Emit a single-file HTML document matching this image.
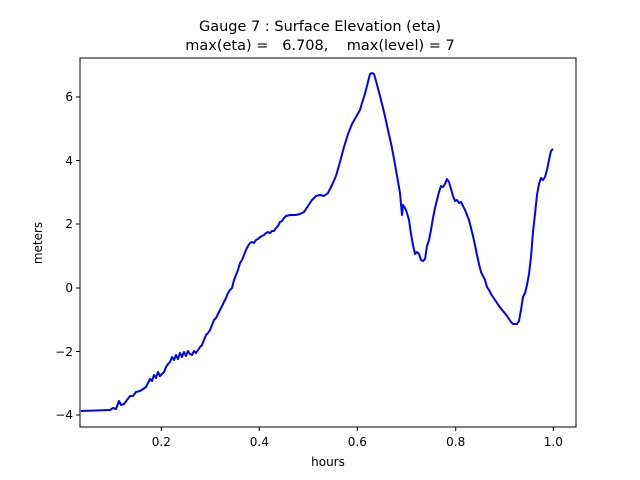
<!DOCTYPE html>
<html><head><meta charset="utf-8"><style>body{margin:0;background:#fff}svg{display:block;font-family:"DejaVu Sans","Liberation Sans",sans-serif}</style></head><body>
<svg width="640" height="480" viewBox="0 0 640 480">
<rect width="640" height="480" fill="#fff"/>
<text x="320" y="31" font-size="14.5" text-anchor="middle">Gauge 7 : Surface Elevation (eta)</text>
<text x="320" y="50" font-size="14.5" text-anchor="middle" xml:space="preserve">max(eta) =   6.708,    max(level) = 7</text>
<polyline fill="none" stroke="#0000ff" stroke-width="2" stroke-linejoin="round" points="81,411 110,410 113,408 116,409 119,401 121,405 124,404 127,400 130,396 133,396 136,392 140,391 143,389 146,387 148,383 150,379 152,381 154,375 156,378 158,372 160,376 162,374 164,372 166,367 168,364 170,362 172,357 174,360 176,355 178,359 180,353 182,357 184,352 186,356 188,351 190,354 192,355 194,351 196,353 198,350 200,347 202,345 204,340 206,335 208,333 210,330 212,325 214,320 216,318 218,314 220,310 222,306 224,302 226,298 228,293 230,290 232,288 234,280 236,275 238,270 240,263 242,260 244,255 246,250 248,246 250,243 252,242 254,243 256,240 258,239 260,237 262,236 264,235 266,233 268,232 270,233 272,231 274,231 276,228 278,226 280,222 282,221 284,218 286,216 290,215 296,215 300,214 304,212 308,206 312,200 316,196 320,195 324,196 328,193 332,185 336,176 340,162 344,147 348,134 352,124 356,117 360,110 362,103 364,97 366,90 368,82 370,74 372,73 374,74 376,81 380,96 384,112 388,130 392,148 396,170 400,193 402,215 403,205 405,208 407,213 409,220 411,234 413,245 415,254 417,252 419,254 421,260 423,261 425,259 427,246 429,240 431,230 433,218 435,208 437,200 439,192 441,186 443,187 445,184 447,179 449,182 451,189 453,196 455,201 457,200 459,203 461,202 463,206 465,210 467,215 469,220 471,228 473,236 475,245 477,255 479,264 481,272 483,276 485,280 487,287 489,290 491,294 493,297 495,300 497,303 499,306 503,311 507,316 509,319 511,322 513,324 517,324 519,321 521,310 523,297 525,293 527,285 529,274 531,257 533,232 535,214 537,195 539,184 541,178 543,180 545,177 547,170 549,160 551,151 553,149"/>
<rect x="80" y="58" width="496" height="369" fill="none" stroke="#000" stroke-width="1"/>
<g stroke="#000" stroke-width="1">
<line x1="161.3" y1="427" x2="161.3" y2="431"/><line x1="259.3" y1="427" x2="259.3" y2="431"/><line x1="357.3" y1="427" x2="357.3" y2="431"/><line x1="455.7" y1="427" x2="455.7" y2="431"/><line x1="553.3" y1="427" x2="553.3" y2="431"/>
<line x1="76" y1="97" x2="80" y2="97"/><line x1="76" y1="160.5" x2="80" y2="160.5"/><line x1="76" y1="224" x2="80" y2="224"/><line x1="76" y1="288" x2="80" y2="288"/><line x1="76" y1="351.5" x2="80" y2="351.5"/><line x1="76" y1="415" x2="80" y2="415"/>
</g>
<g font-size="12" text-anchor="middle">
<text x="161.3" y="446">0.2</text><text x="259.3" y="446">0.4</text><text x="357.3" y="446">0.6</text><text x="455.7" y="446">0.8</text><text x="553.3" y="446">1.0</text>
<text x="328" y="466">hours</text>
</g>
<g font-size="12" text-anchor="end">
<text x="73" y="101">6</text><text x="73" y="165">4</text><text x="73" y="228">2</text><text x="73" y="292">0</text><text x="73" y="356">−2</text><text x="73" y="419">−4</text>
</g>
<text transform="translate(42,243) rotate(-90)" font-size="12" text-anchor="middle">meters</text>
</svg>
</body></html>
